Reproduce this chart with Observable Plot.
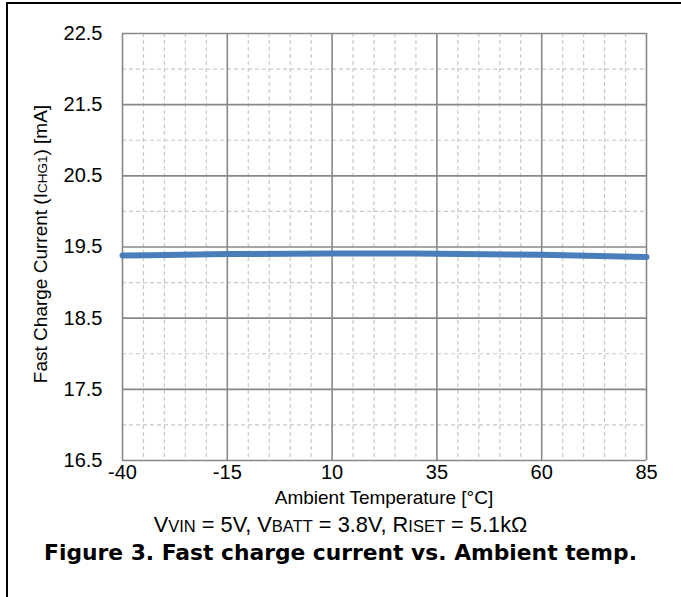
<!DOCTYPE html>
<html>
<head>
<meta charset="utf-8">
<script src="https://cdn.jsdelivr.net/npm/d3@7"></script>
<script src="https://cdn.jsdelivr.net/npm/@observablehq/plot@0.6"></script>
<style>
  html, body { margin: 0; padding: 0; background: #fff; }
  body { width: 681px; height: 597px; position: relative; overflow: hidden; font-family: "Liberation Sans", Arial, sans-serif; }
  #chart { position: absolute; left: 0; top: 0; z-index: 1; }
  #frame { position: absolute; left: 6px; top: 2px; width: 700px; height: 620px; border-top: 2px solid #000; border-left: 2px solid #000; z-index: 2; pointer-events: none; }
  .cap { position: absolute; left: 0; width: 681px; text-align: center; color: #000; white-space: nowrap; z-index: 1; }
  #sub { top: 511px; font-size: 21.8px; line-height: 27px; }
  #sub .s { font-size: 16.5px; }
  #title { top: 540px; font-size: 21.8px; line-height: 26px; font-weight: bold; font-family: "DejaVu Sans", Verdana, sans-serif; }
</style>
</head>
<body>
<div id="chart"></div>
<div id="sub" class="cap">V<span class="s">VIN</span> = 5V, V<span class="s">BATT</span> = 3.8V, R<span class="s">ISET</span> = 5.1kΩ</div>
<div id="title" class="cap">Figure 3. Fast charge current vs. Ambient temp.</div>
<div id="frame"></div>
<script>
const temperature = [-40, -15, 10, 35, 60, 85];
const current = [19.38, 19.40, 19.41, 19.405, 19.39, 19.36];
const xTicks = [-40, -15, 10, 35, 60, 85];
const yTicks = [16.5, 17.5, 18.5, 19.5, 20.5, 21.5, 22.5];
const xMinor = d3.range(-40, 86, 5).filter(v => !xTicks.includes(v));
const yMinor = [17, 18, 19, 20, 21, 22];

const data = temperature.map((t, i) => ({t, c: current[i]}));

const chart = Plot.plot({
  width: 681,
  height: 510,
  marginLeft: 122,
  marginRight: 35,
  marginTop: 33,
  marginBottom: 50,
  style: {fontFamily: '"Liberation Sans", Arial, sans-serif', fontSize: "20px", color: "#000", background: "#fff"},
  x: {domain: [-40, 85], label: null},
  y: {domain: [16.5, 22.5], label: null},
  marks: [
    Plot.ruleX(xMinor, {stroke: "#c9c9c9", strokeWidth: 1.2, strokeDasharray: "4,3"}),
    Plot.ruleY(yMinor, {stroke: "#c9c9c9", strokeWidth: 1.2, strokeDasharray: "4,3"}),
    Plot.ruleX(xTicks, {stroke: "#888", strokeWidth: 1.6}),
    Plot.ruleY(yTicks, {stroke: "#888", strokeWidth: 1.6}),
    Plot.line(data, {x: "t", y: "c", stroke: "#4a7ebb", strokeWidth: 6, curve: "natural"}),
    Plot.axisX({ticks: xTicks, tickSize: 0, tickPadding: 4, tickFormat: d => String(d), fontSize: 20, label: null}),
    Plot.axisY({ticks: yTicks, tickSize: 0, tickPadding: 20, tickFormat: d => d.toFixed(1), fontSize: 20, label: null})
  ]
});
document.getElementById("chart").appendChild(chart);

const svg = d3.select(chart);
svg.append("text")
  .attr("x", (122 + 646) / 2)
  .attr("y", 504)
  .attr("text-anchor", "middle")
  .attr("font-size", 19)
  .attr("fill", "#000")
  .text("Ambient Temperature [°C]");

const yl = svg.append("text")
  .attr("transform", "translate(47,244) rotate(-90)")
  .attr("text-anchor", "middle")
  .attr("font-size", 19)
  .attr("fill", "#000");
yl.append("tspan").text("Fast Charge Current (I");
yl.append("tspan").attr("font-size", 13.5).text("CHG1");
yl.append("tspan").text(") [mA]");
</script>
</body>
</html>
